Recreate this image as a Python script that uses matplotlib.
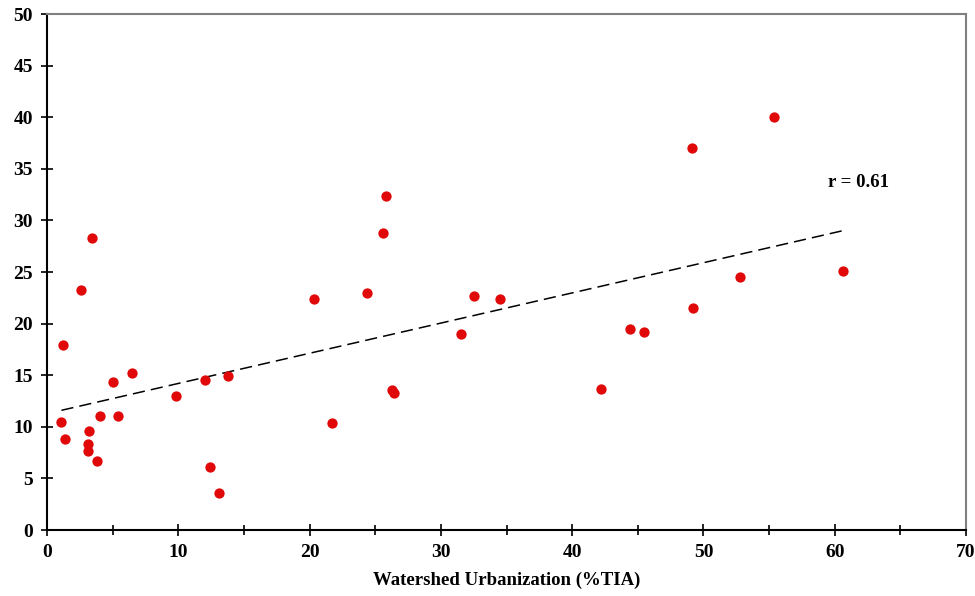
import numpy as np
import matplotlib.pyplot as plt
from matplotlib.ticker import MultipleLocator

# watershed urbanization (%TIA) vs response
x = [1.2, 1.1, 1.4, 3.4, 2.6, 3.1, 3.1, 3.2, 3.8, 4.0, 5.0, 5.4, 6.5, 9.8,
     12.0, 12.4, 13.1, 13.8, 20.3, 21.7, 24.4, 25.6, 25.8, 26.3, 26.4,
     31.5, 32.5, 34.5, 42.2, 44.4, 45.5, 49.1, 49.2, 52.8, 55.4, 60.6]
y = [17.9, 10.5, 8.8, 28.3, 23.3, 8.3, 7.7, 9.6, 6.7, 11.0, 14.3, 11.0, 15.2, 13.0,
     14.5, 6.1, 3.6, 14.9, 22.4, 10.4, 23.0, 28.8, 32.4, 13.6, 13.3,
     19.0, 22.7, 22.4, 13.7, 19.5, 19.2, 37.0, 21.5, 24.5, 40.0, 25.1]

trend_x = [1.1, 60.6]
trend_y = [11.6, 29.0]

plt.rcParams['font.family'] = 'Liberation Serif'
plt.rcParams['font.weight'] = 'bold'

fig = plt.figure(figsize=(9.75, 5.96), dpi=100)
ax = fig.add_axes([0.0482, 0.1107, 0.9426, 0.8658])

ax.plot(trend_x, trend_y, color='black', lw=1.1, dashes=(8, 4))
ax.scatter(x, y, s=55, color='#e00808', zorder=3, linewidths=0)
ax.text(59.5, 33.2, 'r = 0.61', fontsize=13.5, fontweight='bold')

ax.set_xlim(0, 70)
ax.set_ylim(0, 50)
ax.xaxis.set_major_locator(MultipleLocator(10))
ax.xaxis.set_minor_locator(MultipleLocator(5))
ax.yaxis.set_major_locator(MultipleLocator(5))
ax.tick_params(which='both', direction='inout', length=8, width=1.2,
               labelsize=14, pad=6)
ax.tick_params(which='minor', length=7)
for lab in ax.get_xticklabels() + ax.get_yticklabels():
    lab.set_fontweight('bold')

for s in ['left', 'bottom']:
    ax.spines[s].set_linewidth(1.5)
for s in ['top', 'right']:
    ax.spines[s].set_color('#808080')
    ax.spines[s].set_linewidth(1.5)

ax.set_xlabel('Watershed Urbanization (%TIA)', fontsize=13.5, fontweight='bold', labelpad=8)

fig.savefig('out.png', dpi=100)
